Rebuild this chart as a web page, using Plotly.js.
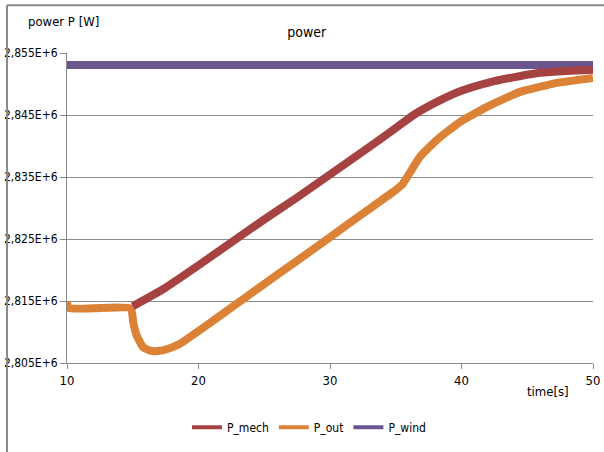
<!DOCTYPE html>
<html>
<head>
<meta charset="utf-8">
<script src="https://cdn.plot.ly/plotly-3.0.1.min.js"></script>
<style>
  html, body { margin: 0; padding: 0; background: #fff; }
  #chart { width: 604px; height: 452px; }
</style>
</head>
<body>
<div id="chart"></div>
<script>
// ---- data ----
const windTime = [10, 50];
const windPower = [2853070, 2853070];

const mechTime = [15.0, 17.3, 19.9, 22.4, 24.9, 27.5, 30.0, 32.5, 35.0, 36.5, 38.4, 40.0, 42.2, 44.5, 46.0, 48.0, 50.0];
const mechPower = [2814157, 2816890, 2820600, 2824300, 2828000, 2831700, 2835400, 2839100, 2842900, 2845200, 2847400, 2848900, 2850300, 2851300, 2851800, 2852100, 2852300];

const outTime = [10.0, 10.1, 12.0, 14.85, 15.05, 15.32, 15.78, 16.3, 16.92, 17.7, 18.59, 19.9, 22.4, 24.9, 27.5, 30.0, 32.5, 35.0, 35.5, 35.9, 36.84, 38.14, 39.9, 41.94, 44.45, 47.26, 50.0];
const outPower = [2814900, 2813835, 2813835, 2813835, 2811400, 2809333, 2807564, 2807000, 2806922, 2807300, 2808100, 2810000, 2813800, 2817600, 2821500, 2825300, 2829100, 2832900, 2833800, 2835100, 2838277, 2841010, 2843905, 2846317, 2848729, 2850176, 2850980];

const seriesNames = ['P_mech', 'P_out', 'P_wind'];
const seriesColors = ['#A64241', '#DC8237', '#6B558E'];

const yTickVals = [2805000, 2815000, 2825000, 2835000, 2845000, 2855000];
const yTickText = ['2,805E+6', '2,815E+6', '2,825E+6', '2,835E+6', '2,845E+6', '2,855E+6'];
const xTickVals = [10, 20, 30, 40, 50];

const FONT = 'Liberation Sans Narrow, Arial Narrow, DejaVu Sans Condensed, sans-serif';

const traces = [
  {x: windTime, y: windPower, name: seriesNames[2], mode: 'lines', showlegend: false,
   line: {color: seriesColors[2], width: 8}},
  {x: outTime, y: outPower, name: seriesNames[1], mode: 'lines', showlegend: false,
   line: {color: seriesColors[1], width: 8, shape: 'spline', smoothing: 0.4}},
  {x: mechTime, y: mechPower, name: seriesNames[0], mode: 'lines', showlegend: false,
   line: {color: seriesColors[0], width: 8, shape: 'spline', smoothing: 0.5}},
  // legend entries (thinner sample lines)
  {x: [null], y: [null], name: seriesNames[0], mode: 'lines', line: {color: seriesColors[0], width: 4}},
  {x: [null], y: [null], name: seriesNames[1], mode: 'lines', line: {color: seriesColors[1], width: 4}},
  {x: [null], y: [null], name: seriesNames[2], mode: 'lines', line: {color: seriesColors[2], width: 4}}
];

const layout = {
  width: 604, height: 452,
  margin: {l: 67, r: 11, t: 53, b: 88},
  paper_bgcolor: '#fff', plot_bgcolor: '#fff',
  font: {family: FONT, size: 12, color: '#000'},
  title: {text: 'power', x: 0.508, xanchor: 'center', y: 0.929, yanchor: 'middle',
          font: {family: FONT, size: 14, color: '#000'}},
  xaxis: {range: [10, 50], tickvals: xTickVals, ticks: 'outside', ticklen: 5,
          tickcolor: '#888', showline: true, linecolor: '#888', linewidth: 1,
          showgrid: false, zeroline: false, tickfont: {family: FONT, size: 13}},
  yaxis: {range: [2805000, 2855000], tickvals: yTickVals, ticktext: yTickText,
          ticks: 'outside', ticklen: 6, tickcolor: '#888', showline: true,
          linecolor: '#888', linewidth: 1, showgrid: true, gridcolor: '#8c8c8c',
          gridwidth: 1, zeroline: false, tickfont: {family: FONT, size: 12}},
  legend: {orientation: 'h', x: 0.46, xanchor: 'center', y: -0.203, yanchor: 'middle',
           font: {family: FONT, size: 12}, itemwidth: 30, bgcolor: 'rgba(0,0,0,0)'},
  annotations: [
    {text: 'power P [W]', xref: 'paper', yref: 'paper', x: -0.006, y: 1.1, xanchor: 'center',
     yanchor: 'middle', showarrow: false, font: {family: FONT, size: 13}},
    {text: 'time[s]', xref: 'paper', yref: 'paper', x: 0.914, y: -0.093, xanchor: 'center',
     yanchor: 'middle', showarrow: false, font: {family: FONT, size: 13}}
  ],
  shapes: [
    {type: 'line', xref: 'paper', yref: 'paper', x0: -0.114, x1: -0.114, y0: 1.154, y1: -0.4,
     line: {color: '#888', width: 2}},
    {type: 'line', xref: 'paper', yref: 'paper', x0: -0.114, x1: 1.1, y0: 1.154, y1: 1.154,
     line: {color: '#888', width: 2}}
  ]
};

Plotly.newPlot('chart', traces, layout, {displayModeBar: false, staticPlot: true});
</script>
</body>
</html>
